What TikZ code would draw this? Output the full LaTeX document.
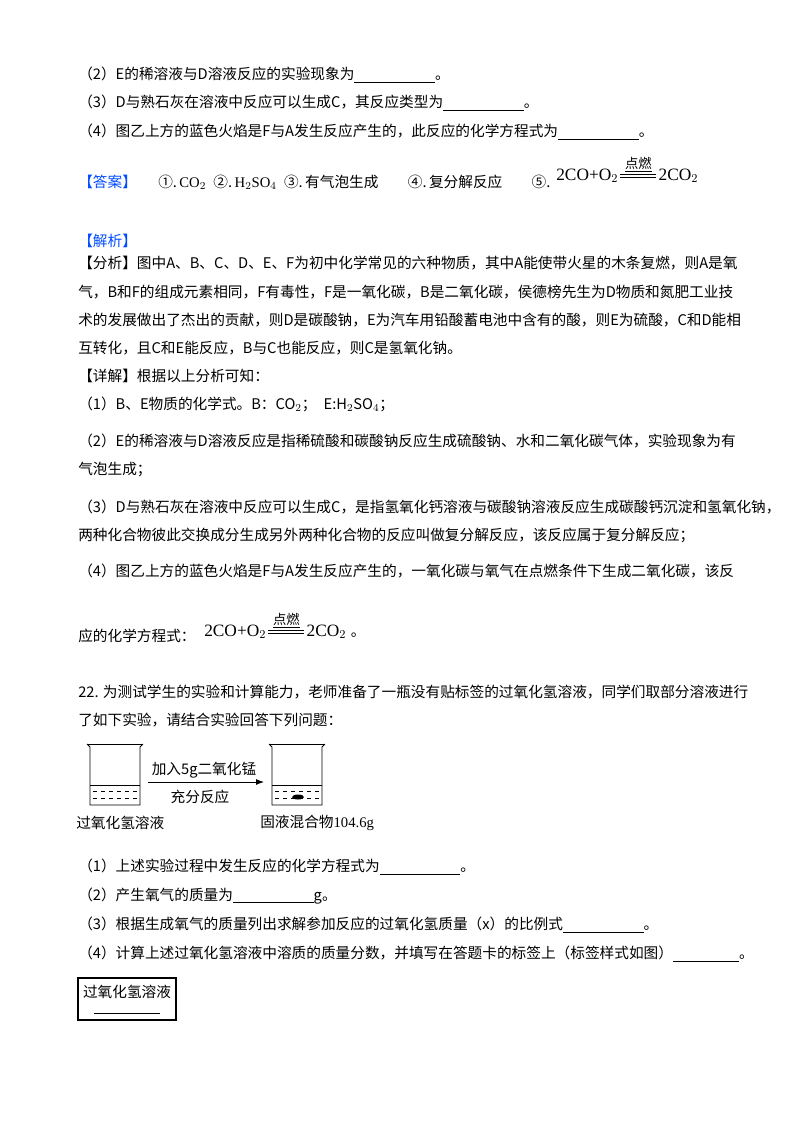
\documentclass[tikz,border=0pt]{standalone}
\usepackage{fontspec}
\usetikzlibrary{arrows.meta}
\setmainfont{Liberation Serif}
\newfontfamily\cjk{Noto Sans CJK SC}
\tikzset{ln/.style={anchor=west,inner sep=0pt,font=\cjk\fontsize{11}{13}\selectfont},
 eq/.style={inner sep=0pt,anchor=west,font=\fontsize{13}{15}\selectfont},
 bk/.style={line width=0.6pt}, dsh/.style={dashed,line width=0.5pt}}
\newcommand{\blank}{\underline{\hspace{5.5em}}}
\begin{document}
\begin{tikzpicture}[x=0.75pt,y=-0.75pt]
\useasboundingbox (0,0) rectangle (800,1132);
\node[ln] (l1) at (78,75) {（2）E的稀溶液与D溶液反应的实验现象为\blank 。};
\node[ln] (l2) at (78,103) {（3）D与熟石灰在溶液中反应可以生成C，其反应类型为\blank 。};
\node[ln] (l3) at (78,132) {（4）图乙上方的蓝色火焰是F与A发生反应产生的，此反应的化学方程式为\blank 。};
\node[ln,text=blue!70!cyan] (ans) at (78,182) {【答案】};
\node[ln] (a1) at (158,182) {①.\,{\rmfamily CO$_2$}\enspace ②.\,{\rmfamily H$_2$SO$_4$}\enspace ③.\,有气泡生成\qquad ④.\,复分解反应\qquad ⑤.};
\node[eq] (e1) at (556,176) {2CO+O$_2$};
\draw (e1.east) ++(2,-2) coordinate (p) -- ++(36,0) (p) ++(0,3) -- ++(36,0);
\node[eq] (e2) at ([xshift=30pt]e1.east) {2CO$_2$};
\node[ln,font=\cjk\fontsize{10}{11}\selectfont,anchor=south] (d1) at ([xshift=15pt,yshift=3pt]e1.east) {\underline{点燃}};
\node[ln,text=blue!70!cyan] (jx) at (78,241) {【解析】};
\node[ln] at (78,263) {【分析】图中A、B、C、D、E、F为初中化学常见的六种物质，其中A能使带火星的木条复燃，则A是氧};
\node[ln] at (78,292) {气，B和F的组成元素相同，F有毒性，F是一氧化碳，B是二氧化碳，侯德榜先生为D物质和氮肥工业技};
\node[ln] at (78,320) {术的发展做出了杰出的贡献，则D是碳酸钠，E为汽车用铅酸蓄电池中含有的酸，则E为硫酸，C和D能相};
\node[ln] at (78,348) {互转化，且C和E能反应，B与C也能反应，则C是氢氧化钠。};
\node[ln] at (78,376) {【详解】根据以上分析可知：};
\node[ln] at (78,404) {（1）B、E物质的化学式。B：CO$_2$；\enspace E:H$_2$SO$_4$；};
\node[ln] at (78,441) {（2）E的稀溶液与D溶液反应是指稀硫酸和碳酸钠反应生成硫酸钠、水和二氧化碳气体，实验现象为有};
\node[ln] at (78,469) {气泡生成；};
\node[ln] at (78,507) {（3）D与熟石灰在溶液中反应可以生成C，是指氢氧化钙溶液与碳酸钠溶液反应生成碳酸钙沉淀和氢氧化钠，};
\node[ln] at (78,535) {两种化合物彼此交换成分生成另外两种化合物的反应叫做复分解反应，该反应属于复分解反应；};
\node[ln] at (78,571) {（4）图乙上方的蓝色火焰是F与A发生反应产生的，一氧化碳与氧气在点燃条件下生成二氧化碳，该反};
\node[ln] (y1) at (78,636) {应的化学方程式：};
\node[eq] (f1) at (204,632) {2CO+O$_2$};
\draw (f1.east) ++(2,-2) coordinate (q) -- ++(36,0) (q) ++(0,3) -- ++(36,0);
\node[eq] (f2) at ([xshift=30pt]f1.east) {2CO$_2$};
\node[ln] (f3) at ([xshift=3pt,yshift=-2pt]f2.east) {。};
\node[ln,font=\cjk\fontsize{10}{11}\selectfont,anchor=south] (d2) at ([xshift=15pt,yshift=3pt]f1.east) {\underline{点燃}};
\node[ln] at (78,692) {22. 为测试学生的实验和计算能力，老师准备了一瓶没有贴标签的过氧化氢溶液，同学们取部分溶液进行};
\node[ln] at (78,720) {了如下实验，请结合实验回答下列问题：};
\foreach \x/\n in {90/L,272/R}{
 \draw[bk] (\x-3,744) -- (\x,747) -- (\x,805) -- (\x+50,805) -- (\x+50,747) -- (\x+53,744);
 \draw[bk] (\x-3,744) -- (\x+53,744);
 \draw[bk] (\x,785) -- (\x+50,785);
 \draw[dsh] (\x+3,791) -- (\x+47,791) (\x+3,798) -- (\x+47,798);
}
\fill (298,797) ellipse (6 and 2.5);
\coordinate (ar1) at (148,782); \coordinate (ar2) at (264,782);
\draw[-{Latex[length=6pt]},line width=0.7pt] (ar1) -- (ar2);
\node[ln,anchor=center] (t1) at (204,770) {加入5g二氧化锰};
\node[ln,anchor=center] (t2) at (200,797) {充分反应};
\node[ln] (b1) at (76,823) {过氧化氢溶液};
\node[ln] (b2) at (260,823) {固液混合物{\rmfamily 104.6g}};
\node[ln] at (78,867) {（1）上述实验过程中发生反应的化学方程式为\blank 。};
\node[ln] at (78,896) {（2）产生氧气的质量为\blank g。};
\node[ln] at (78,925) {（3）根据生成氧气的质量列出求解参加反应的过氧化氢质量（x）的比例式\blank 。};
\node[ln] at (78,954) {（4）计算上述过氧化氢溶液中溶质的质量分数，并填写在答题卡的标签上（标签样式如图）\underline{\hspace{4.5em}}。};
\draw[line width=0.8pt] (78,978) rectangle (176,1020);
\node[ln,anchor=center] (lab) at (127,992) {过氧化氢溶液};
\draw (94,1013) -- (160,1013);
\end{tikzpicture}
\end{document}
